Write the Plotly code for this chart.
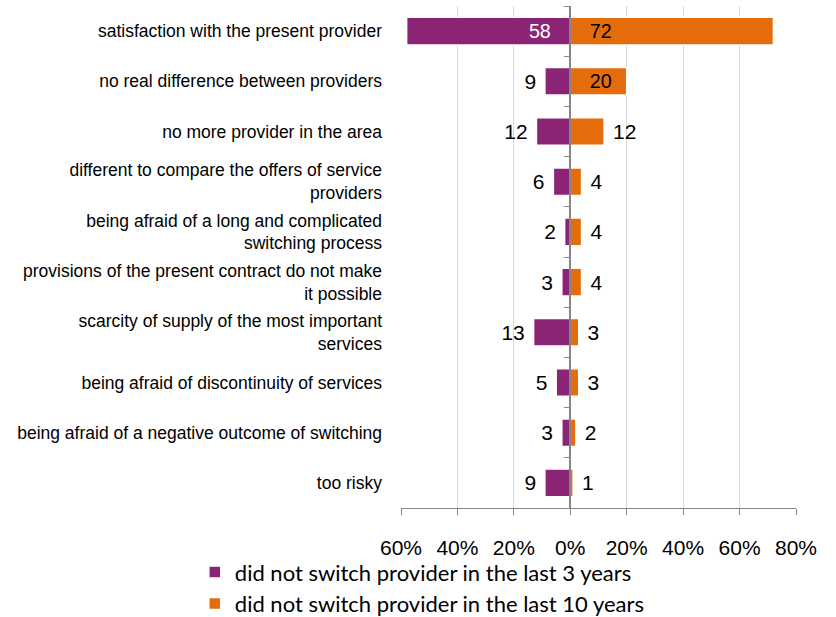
import plotly.graph_objects as go

categories = [
    "satisfaction with the present provider",
    "no real difference between providers",
    "no more provider in the area",
    "different to compare the offers of service<br>providers",
    "being afraid of a long and complicated<br>switching process",
    "provisions of the present contract do not make<br>it possible",
    "scarcity of supply of the most important<br>services",
    "being afraid of discontinuity of services",
    "being afraid of a negative outcome of switching",
    "too risky",
]
switch_3y = [58, 9, 12, 6, 2, 3, 13, 5, 3, 9]
switch_10y = [72, 20, 12, 4, 4, 4, 3, 3, 2, 1]
tick_vals = [-60, -40, -20, 0, 20, 40, 60, 80]
tick_text = ["60%", "40%", "20%", "0%", "20%", "40%", "60%", "80%"]

PURPLE = "#8B2474"
ORANGE = "#E46C0A"
NB = "\u00a0"
FONT = "Liberation Sans, Arial"
inside_3y = [v >= 40 for v in switch_3y]
inside_10y = [v >= 15 for v in switch_10y]

fig = go.Figure()
fig.add_trace(go.Bar(
    y=categories, x=[-v for v in switch_3y], orientation="h",
    name="did not switch provider in the last 3 years",
    marker=dict(color=PURPLE, line=dict(color="white", width=1.5)),
    text=[str(v) + NB * 3 if ins else str(v) + NB for v, ins in zip(switch_3y, inside_3y)],
    textposition=["inside" if ins else "outside" for ins in inside_3y],
    insidetextanchor="start",
    insidetextfont=dict(color="white", size=21, family=FONT),
    outsidetextfont=dict(color="black", size=21, family=FONT),
    textangle=0, cliponaxis=False, width=0.55, hoverinfo="skip",
))
fig.add_trace(go.Bar(
    y=categories, x=switch_10y, orientation="h",
    name="did not switch provider in the last 10 years",
    marker=dict(color=ORANGE, line=dict(color="white", width=1.5)),
    text=[NB * 3 + str(v) if ins else NB + str(v) for v, ins in zip(switch_10y, inside_10y)],
    textposition=["inside" if ins else "outside" for ins in inside_10y],
    insidetextanchor="start",
    insidetextfont=dict(color="black", size=21, family=FONT),
    outsidetextfont=dict(color="black", size=21, family=FONT),
    textangle=0, cliponaxis=False, width=0.55, hoverinfo="skip",
))
# invisible trace to carry the centre category axis with boundary ticks
fig.add_trace(go.Bar(y=categories, x=[0] * len(categories), orientation="h",
                     yaxis="y2", showlegend=False, hoverinfo="skip",
                     marker=dict(color="rgba(0,0,0,0)")))

fig.update_layout(
    width=836, height=617,
    margin=dict(l=401, r=40, t=6, b=109, autoexpand=False),
    barmode="relative",
    plot_bgcolor="white", paper_bgcolor="white",
    font=dict(family=FONT, color="black"),
    xaxis=dict(
        range=[-60, 80], tickvals=tick_vals, ticktext=tick_text,
        showgrid=True, gridcolor="#D9D9D9", gridwidth=1.3,
        zeroline=False, showline=True, linecolor="#868686", linewidth=1.3,
        ticks="outside", ticklen=6, tickcolor="#868686",
        ticklabelstandoff=15, automargin=False,
        tickfont=dict(size=21, family=FONT, color="black"),
    ),
    yaxis=dict(
        type="category", autorange="reversed", showgrid=False, zeroline=False,
        showline=False, ticks="", ticklabelstandoff=18, automargin=False,
        tickfont=dict(size=17.5, family=FONT, color="black"),
    ),
    yaxis2=dict(
        type="category", overlaying="y", matches="y", anchor="free",
        position=60 / 140, side="left", showticklabels=False,
        showline=True, linecolor="#868686", linewidth=1.5,
        ticks="outside", tickson="boundaries", ticklen=6, tickcolor="#868686",
        showgrid=False, zeroline=False, automargin=False,
    ),
    legend=dict(
        x=-0.522, y=-0.086, xanchor="left", yanchor="top", orientation="v",
        font=dict(size=22, family="Lato", color="black"),
        bgcolor="rgba(0,0,0,0)", borderwidth=0,
        itemwidth=30, tracegroupgap=0,
    ),
    showlegend=True,
)
fig.write_html("out.html", config={"displayModeBar": False},
               post_script="document.body.style.margin='0';")
